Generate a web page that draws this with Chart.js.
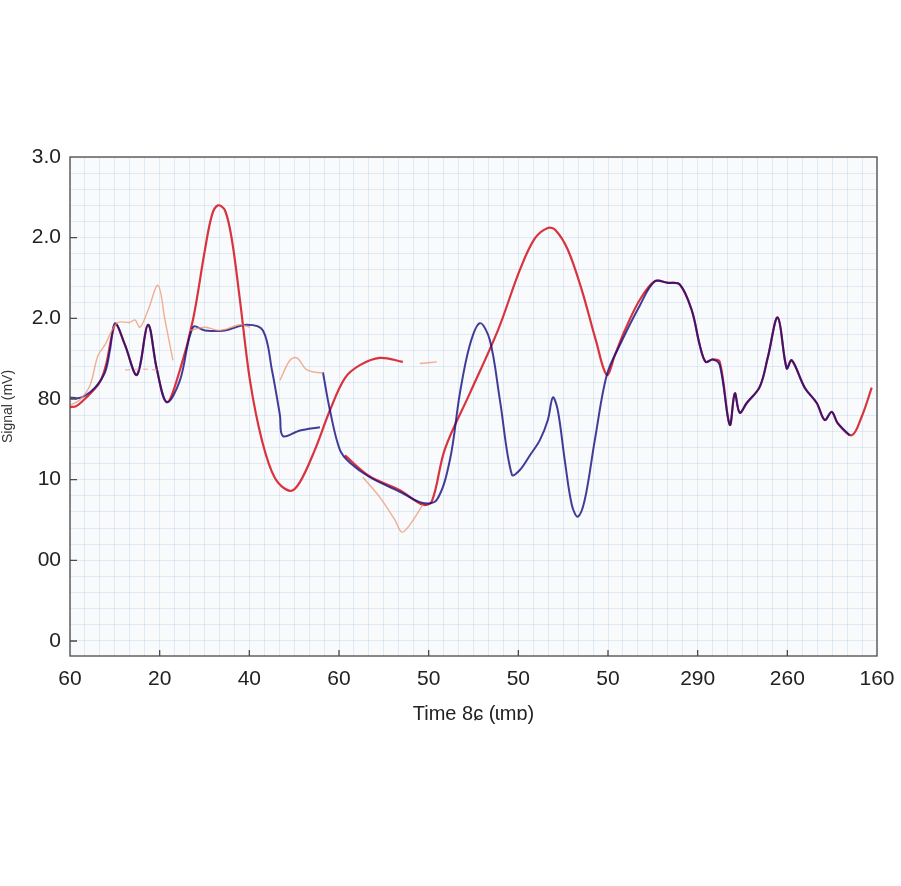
<!DOCTYPE html>
<html>
<head>
<meta charset="utf-8">
<script src="https://cdn.jsdelivr.net/npm/chart.js@4.4.1/dist/chart.umd.min.js"></script>
<style>
  body{margin:0;background:#fff;}
  canvas{display:block;}
</style>
</head>
<body>
<canvas id="chart" width="901" height="886"></canvas>
<script>
// tick labels as printed on the chart
const xLabels=["60","20","40","60","50","50","50","290","260","160"]
const yLabels=["0","00","10","80","2.0","2.0","3.0"]

// red trace (two pieces, null = gap)
const redX=[0,0.067,0.156,0.245,0.334,0.401,0.468,0.513,0.613,0.747,0.870,0.970,1.081,1.226,1.371,1.505,1.583,1.650,1.728,1.806,1.895,2.007,2.140,2.285,2.453,2.564,2.731,2.899,3.066,3.233,3.456,3.712,
  3.72,
  3.066,3.344,3.679,3.935,4.035,4.181,4.459,4.772,5.017,5.184,5.329,5.418,5.552,5.708,5.864,5.987,6.076,6.187,6.355,6.522,6.667,6.800,6.934,7.023,7.090,7.168,7.246,7.358,7.414,7.469,7.547,7.692,7.781,7.893,7.993,8.049,8.194,8.328,8.417,8.495,8.562,8.718,8.829,8.941]
const redY=[2.90,2.91,2.99,3.09,3.21,3.42,3.79,3.93,3.67,3.30,3.92,3.36,2.96,3.36,3.98,4.85,5.28,5.40,5.34,4.97,4.23,3.23,2.49,2.02,1.86,1.97,2.37,2.86,3.26,3.42,3.51,3.46,
  null,
  2.30,2.04,1.87,1.69,1.73,2.38,3.07,3.85,4.60,4.99,5.12,5.09,4.85,4.35,3.73,3.30,3.54,3.85,4.23,4.46,4.44,4.42,4.10,3.67,3.46,3.49,3.46,2.68,3.07,2.83,2.95,3.15,3.51,4.01,3.38,3.48,3.14,2.95,2.74,2.84,2.70,2.55,2.78,3.14]

// blue trace
const blueX=[0,0.089,0.167,0.279,0.390,0.446,0.502,0.613,0.747,0.870,0.970,1.081,1.226,1.371,1.505,1.728,1.973,2.152,2.252,2.341,2.375,2.564,2.787,
  2.80,
  2.821,2.899,3.010,3.122,3.344,3.679,3.935,4.091,4.236,4.348,4.459,4.571,4.682,4.794,4.928,5.017,5.128,5.240,5.329,5.385,5.440,5.518,5.596,5.663,5.741,5.853,5.987,6.132,6.355,6.522,6.667,6.800,6.934,7.023,7.090,7.168,7.246,7.358,7.414,7.469,7.547,7.692,7.781,7.893,7.993,8.049,8.194,8.328,8.417,8.495,8.562,8.696]
const blueY=[3.02,3.01,3.04,3.14,3.33,3.61,3.94,3.67,3.30,3.92,3.36,2.96,3.23,3.89,3.85,3.85,3.92,3.85,3.36,2.80,2.54,2.61,2.65,
  null,
  3.33,2.86,2.37,2.21,2.03,1.85,1.71,1.75,2.24,3.07,3.67,3.94,3.73,2.99,2.06,2.12,2.30,2.49,2.74,3.02,2.86,2.24,1.69,1.54,1.75,2.49,3.30,3.67,4.16,4.46,4.44,4.42,4.10,3.67,3.46,3.49,3.42,2.68,3.07,2.83,2.95,3.15,3.51,4.01,3.38,3.48,3.14,2.95,2.74,2.84,2.70,2.55]

// faint orange trace
const orangeX=[0,0.111,0.223,0.312,0.390,0.468,0.535,0.669,0.725,0.780,0.870,0.981,1.059,1.148,
  1.2,1.338,1.505,1.672,1.895,2.007,
  2.2,2.341,2.453,2.531,2.642,2.821,
  3.0,3.266,3.456,3.623,3.701,3.790,3.935,
  3.95,3.902,4.091]
const orangeY=[2.92,2.99,3.17,3.54,3.67,3.85,3.95,3.95,3.98,3.89,4.10,4.41,3.98,3.48,
  null,3.85,3.89,3.85,3.92,3.89,
  null,3.23,3.48,3.51,3.36,3.32,
  null,2.03,1.78,1.50,1.35,1.44,1.69,
  null,3.44,3.46]

// faint pink dashed trace
const pinkX=[0.613,0.780,0.970]
const pinkY=[3.36,3.37,3.36]

const pts=(xs,ys)=>xs.map((x,i)=>({x,y:ys[i]}))
const isMajor=v=>Math.abs(v-Math.round(v))<1e-6

const frame={
  id:"frame",
  beforeDraw(chart){
    const {ctx,chartArea:a}=chart
    ctx.save()
    ctx.fillStyle="#f8fafc"
    ctx.fillRect(a.left,a.top,a.right-a.left,a.bottom-a.top)
    ctx.restore()
  },
  afterDraw(chart){
    const {ctx,chartArea:a,scales}=chart
    ctx.save()
    ctx.strokeStyle="#4a4a4a"
    ctx.lineWidth=1.3
    ctx.strokeRect(a.left,a.top,a.right-a.left,a.bottom-a.top)
    ctx.beginPath()
    for(let i=1;i<xLabels.length-1;i++){
      const px=scales.x.getPixelForValue(i)
      ctx.moveTo(px,a.bottom);ctx.lineTo(px,a.bottom-6)
    }
    for(let i=0;i<yLabels.length-1;i++){
      const py=scales.y.getPixelForValue(i)
      ctx.moveTo(a.left,py);ctx.lineTo(a.left+7,py)
    }
    ctx.stroke()
    ctx.restore()
  }
}

const font={family:"'Liberation Sans','DejaVu Sans',sans-serif",size:21}
const gridColor="rgba(170,200,228,0.30)"

new Chart(document.getElementById("chart"),{
  type:"line",
  data:{
    datasets:[
      {data:pts(pinkX,pinkY),borderColor:"rgba(240,150,150,0.7)",borderWidth:1.2,borderDash:[5,4]},
      {data:pts(orangeX,orangeY),borderColor:"rgba(238,150,110,0.75)",borderWidth:1.4},
      {data:pts(blueX,blueY),borderColor:"rgba(20,12,125,0.8)",borderWidth:2},
      {data:pts(redX,redY),borderColor:"rgba(214,34,46,0.92)",borderWidth:2.2}
    ]
  },
  options:{
    responsive:false,
    animation:false,
    spanGaps:false,
    elements:{point:{radius:0},line:{tension:0.35,capBezierPoints:true}},
    layout:{padding:{top:157,right:24,bottom:160,left:0}},
    plugins:{legend:{display:false},tooltip:{enabled:false}},
    scales:{
      x:{
        type:"linear",min:0,max:9,
        afterBuildTicks(s){
          const t=[]
          for(let i=0;i<=54;i++) t.push({value:i/6})
          s.ticks=t
        },
        afterFit(s){s.height=70;s.paddingRight=0;s.paddingLeft=0},
        grid:{color:gridColor,drawTicks:false},
        border:{display:false},
        ticks:{autoSkip:false,maxRotation:0,padding:11,color:"#222",font,
          callback:v=>isMajor(v)?xLabels[Math.round(v)]:""},
        title:{display:true,text:"Time 8ɕ (ɩmɒ)",color:"#222",
          font:{family:font.family,size:20},padding:{top:0,bottom:0}}
      },
      y:{
        type:"linear",min:-0.186,max:6,
        afterBuildTicks(s){
          const t=[]
          for(let i=0;i<=30;i++) t.push({value:i/5})
          s.ticks=t
        },
        afterFit(s){s.width=70;s.paddingTop=0;s.paddingBottom=0},
        grid:{color:gridColor,drawTicks:false},
        border:{display:false},
        ticks:{autoSkip:false,padding:9,color:"#222",font,
          callback:v=>isMajor(v)?yLabels[Math.round(v)]:""},
        title:{display:true,text:"Signal (mV)",color:"#333",
          font:{family:font.family,size:14},padding:{top:0,bottom:0}}
      }
    }
  },
  plugins:[frame]
})
</script>
</body>
</html>
